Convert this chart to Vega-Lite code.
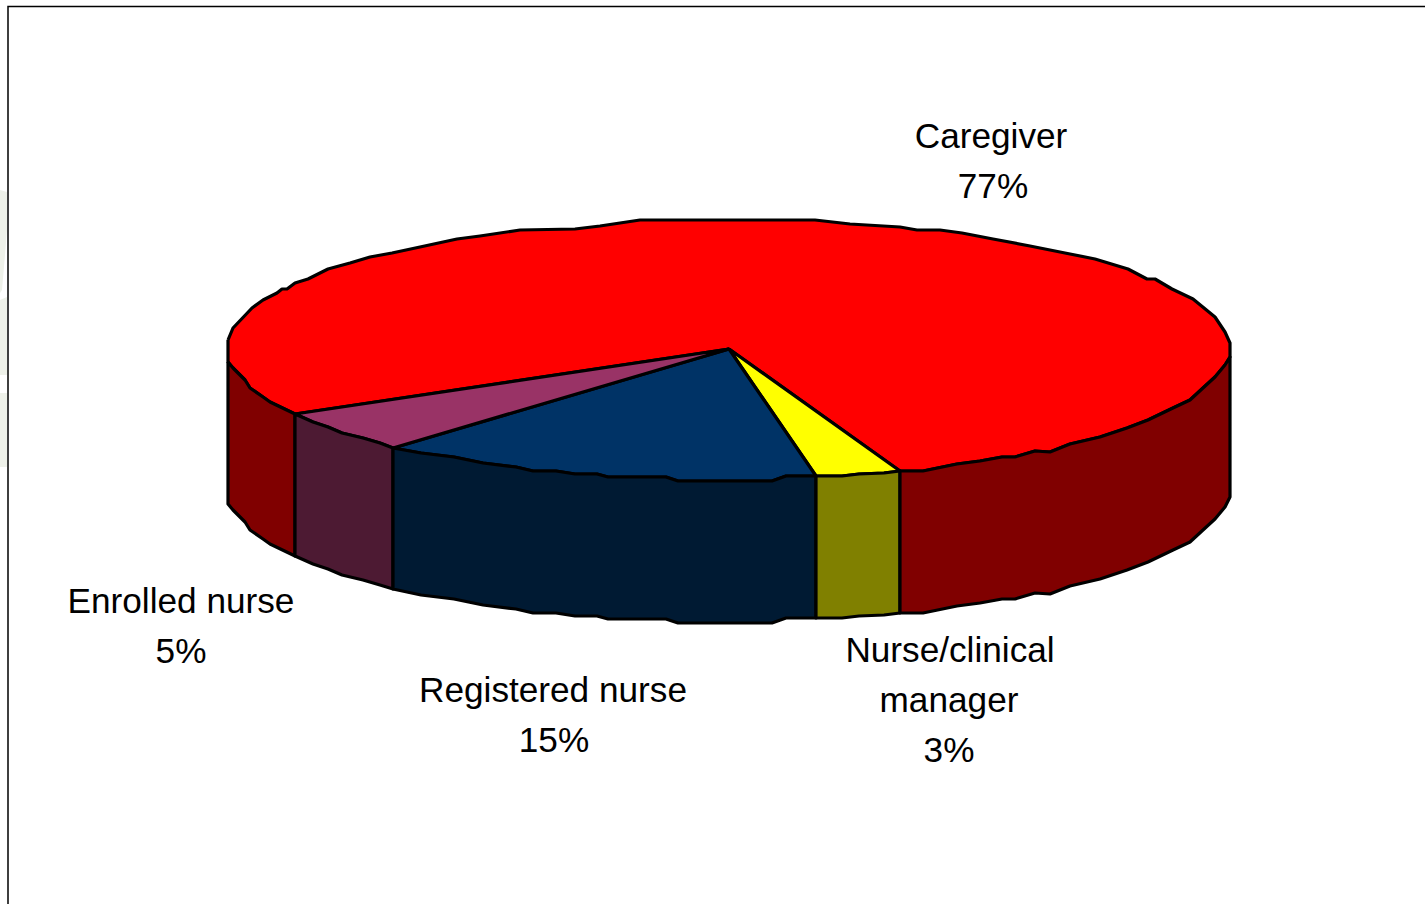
{"$schema":"https://vega.github.io/schema/vega-lite/v6.json","width":1425,"height":904,"padding":0,"autosize":"none","background":"white","config":{"view":{"stroke":null}},
"datasets":{
"faces":[
{"face":"Caregiver top","i":1,"x":228,"y":340},{"face":"Caregiver top","i":2,"x":233,"y":328},{"face":"Caregiver top","i":3,"x":252,"y":308},{"face":"Caregiver top","i":4,"x":263,"y":300},{"face":"Caregiver top","i":5,"x":277,"y":293},{"face":"Caregiver top","i":6,"x":282,"y":289},{"face":"Caregiver top","i":7,"x":287,"y":289},{"face":"Caregiver top","i":8,"x":295,"y":283},{"face":"Caregiver top","i":9,"x":308,"y":279},{"face":"Caregiver top","i":10,"x":328,"y":269},{"face":"Caregiver top","i":11,"x":350,"y":263},{"face":"Caregiver top","i":12,"x":370,"y":257},{"face":"Caregiver top","i":13,"x":392,"y":253},{"face":"Caregiver top","i":14,"x":420,"y":247},{"face":"Caregiver top","i":15,"x":457,"y":239},{"face":"Caregiver top","i":16,"x":480,"y":236},{"face":"Caregiver top","i":17,"x":520,"y":230},{"face":"Caregiver top","i":18,"x":575,"y":229},{"face":"Caregiver top","i":19,"x":600,"y":226},{"face":"Caregiver top","i":20,"x":640,"y":220},{"face":"Caregiver top","i":21,"x":815,"y":220},{"face":"Caregiver top","i":22,"x":850,"y":224},{"face":"Caregiver top","i":23,"x":900,"y":227},{"face":"Caregiver top","i":24,"x":917,"y":230},{"face":"Caregiver top","i":25,"x":940,"y":230},{"face":"Caregiver top","i":26,"x":962,"y":233},{"face":"Caregiver top","i":27,"x":993,"y":239},{"face":"Caregiver top","i":28,"x":1030,"y":246},{"face":"Caregiver top","i":29,"x":1065,"y":253},{"face":"Caregiver top","i":30,"x":1095,"y":259},{"face":"Caregiver top","i":31,"x":1128,"y":269},{"face":"Caregiver top","i":32,"x":1147,"y":279},{"face":"Caregiver top","i":33,"x":1155,"y":279},{"face":"Caregiver top","i":34,"x":1172,"y":289},{"face":"Caregiver top","i":35,"x":1193,"y":299},{"face":"Caregiver top","i":36,"x":1215,"y":317},{"face":"Caregiver top","i":37,"x":1225,"y":332},{"face":"Caregiver top","i":38,"x":1230,"y":343},{"face":"Caregiver top","i":39,"x":1230,"y":357},{"face":"Caregiver top","i":40,"x":1225,"y":365},{"face":"Caregiver top","i":41,"x":1215,"y":377},{"face":"Caregiver top","i":42,"x":1203,"y":388},{"face":"Caregiver top","i":43,"x":1190,"y":400},{"face":"Caregiver top","i":44,"x":1173,"y":408},{"face":"Caregiver top","i":45,"x":1148,"y":420},{"face":"Caregiver top","i":46,"x":1127,"y":428},{"face":"Caregiver top","i":47,"x":1100,"y":437},{"face":"Caregiver top","i":48,"x":1070,"y":444},{"face":"Caregiver top","i":49,"x":1050,"y":452},{"face":"Caregiver top","i":50,"x":1035,"y":451},{"face":"Caregiver top","i":51,"x":1015,"y":457},{"face":"Caregiver top","i":52,"x":1002,"y":457},{"face":"Caregiver top","i":53,"x":980,"y":461},{"face":"Caregiver top","i":54,"x":957,"y":464},{"face":"Caregiver top","i":55,"x":923,"y":471},{"face":"Caregiver top","i":56,"x":900,"y":471},{"face":"Caregiver top","i":57,"x":729,"y":349},{"face":"Caregiver top","i":58,"x":295,"y":414},{"face":"Caregiver top","i":59,"x":270,"y":402},{"face":"Caregiver top","i":60,"x":263,"y":397},{"face":"Caregiver top","i":61,"x":250,"y":388},{"face":"Caregiver top","i":62,"x":245,"y":380},{"face":"Caregiver top","i":63,"x":233,"y":368},{"face":"Caregiver top","i":64,"x":228,"y":362},{"face":"Caregiver top","i":65,"x":228,"y":340},

{"face":"Manager top","i":1,"x":729,"y":349},{"face":"Manager top","i":2,"x":900,"y":471},{"face":"Manager top","i":3,"x":884,"y":473},{"face":"Manager top","i":4,"x":859,"y":474},{"face":"Manager top","i":5,"x":842,"y":476},{"face":"Manager top","i":6,"x":816,"y":476},{"face":"Manager top","i":7,"x":729,"y":349},

{"face":"Registered top","i":1,"x":729,"y":349},{"face":"Registered top","i":2,"x":816,"y":476},{"face":"Registered top","i":3,"x":786,"y":476},{"face":"Registered top","i":4,"x":772,"y":481},{"face":"Registered top","i":5,"x":678,"y":481},{"face":"Registered top","i":6,"x":666,"y":477},{"face":"Registered top","i":7,"x":608,"y":477},{"face":"Registered top","i":8,"x":597,"y":474},{"face":"Registered top","i":9,"x":575,"y":474},{"face":"Registered top","i":10,"x":556,"y":471},{"face":"Registered top","i":11,"x":533,"y":471},{"face":"Registered top","i":12,"x":516,"y":467},{"face":"Registered top","i":13,"x":483,"y":463},{"face":"Registered top","i":14,"x":454,"y":457},{"face":"Registered top","i":15,"x":421,"y":453},{"face":"Registered top","i":16,"x":393,"y":448},{"face":"Registered top","i":17,"x":729,"y":349},

{"face":"Enrolled top","i":1,"x":729,"y":349},{"face":"Enrolled top","i":2,"x":393,"y":448},{"face":"Enrolled top","i":3,"x":380,"y":443},{"face":"Enrolled top","i":4,"x":363,"y":438},{"face":"Enrolled top","i":5,"x":342,"y":433},{"face":"Enrolled top","i":6,"x":328,"y":427},{"face":"Enrolled top","i":7,"x":313,"y":422},{"face":"Enrolled top","i":8,"x":295,"y":414},{"face":"Enrolled top","i":9,"x":729,"y":349},

{"face":"Caregiver side","i":1,"x":228,"y":362},{"face":"Caregiver side","i":2,"x":233,"y":368},{"face":"Caregiver side","i":3,"x":245,"y":380},{"face":"Caregiver side","i":4,"x":250,"y":388},{"face":"Caregiver side","i":5,"x":263,"y":397},{"face":"Caregiver side","i":6,"x":270,"y":402},{"face":"Caregiver side","i":7,"x":295,"y":414},{"face":"Caregiver side","i":8,"x":295,"y":556},{"face":"Caregiver side","i":9,"x":270,"y":544},{"face":"Caregiver side","i":10,"x":263,"y":539},{"face":"Caregiver side","i":11,"x":250,"y":530},{"face":"Caregiver side","i":12,"x":245,"y":522},{"face":"Caregiver side","i":13,"x":233,"y":510},{"face":"Caregiver side","i":14,"x":228,"y":504},{"face":"Caregiver side","i":15,"x":228,"y":362},

{"face":"Enrolled side","i":1,"x":295,"y":414},{"face":"Enrolled side","i":2,"x":313,"y":422},{"face":"Enrolled side","i":3,"x":328,"y":427},{"face":"Enrolled side","i":4,"x":342,"y":433},{"face":"Enrolled side","i":5,"x":363,"y":438},{"face":"Enrolled side","i":6,"x":380,"y":443},{"face":"Enrolled side","i":7,"x":393,"y":448},{"face":"Enrolled side","i":8,"x":393,"y":589},{"face":"Enrolled side","i":9,"x":380,"y":585},{"face":"Enrolled side","i":10,"x":363,"y":580},{"face":"Enrolled side","i":11,"x":342,"y":575},{"face":"Enrolled side","i":12,"x":328,"y":569},{"face":"Enrolled side","i":13,"x":313,"y":564},{"face":"Enrolled side","i":14,"x":295,"y":556},{"face":"Enrolled side","i":15,"x":295,"y":414},

{"face":"Registered side","i":1,"x":393,"y":448},{"face":"Registered side","i":2,"x":421,"y":453},{"face":"Registered side","i":3,"x":454,"y":457},{"face":"Registered side","i":4,"x":483,"y":463},{"face":"Registered side","i":5,"x":516,"y":467},{"face":"Registered side","i":6,"x":533,"y":471},{"face":"Registered side","i":7,"x":556,"y":471},{"face":"Registered side","i":8,"x":575,"y":474},{"face":"Registered side","i":9,"x":597,"y":474},{"face":"Registered side","i":10,"x":608,"y":477},{"face":"Registered side","i":11,"x":666,"y":477},{"face":"Registered side","i":12,"x":678,"y":481},{"face":"Registered side","i":13,"x":772,"y":481},{"face":"Registered side","i":14,"x":786,"y":476},{"face":"Registered side","i":15,"x":816,"y":476},{"face":"Registered side","i":16,"x":816,"y":618},{"face":"Registered side","i":17,"x":786,"y":618},{"face":"Registered side","i":18,"x":772,"y":623},{"face":"Registered side","i":19,"x":678,"y":623},{"face":"Registered side","i":20,"x":666,"y":619},{"face":"Registered side","i":21,"x":608,"y":619},{"face":"Registered side","i":22,"x":597,"y":616},{"face":"Registered side","i":23,"x":575,"y":616},{"face":"Registered side","i":24,"x":556,"y":613},{"face":"Registered side","i":25,"x":533,"y":613},{"face":"Registered side","i":26,"x":516,"y":609},{"face":"Registered side","i":27,"x":483,"y":605},{"face":"Registered side","i":28,"x":454,"y":599},{"face":"Registered side","i":29,"x":421,"y":595},{"face":"Registered side","i":30,"x":393,"y":589},{"face":"Registered side","i":31,"x":393,"y":448},

{"face":"Manager side","i":1,"x":816,"y":476},{"face":"Manager side","i":2,"x":842,"y":476},{"face":"Manager side","i":3,"x":859,"y":474},{"face":"Manager side","i":4,"x":884,"y":473},{"face":"Manager side","i":5,"x":900,"y":471},{"face":"Manager side","i":6,"x":900,"y":613},{"face":"Manager side","i":7,"x":884,"y":615},{"face":"Manager side","i":8,"x":859,"y":616},{"face":"Manager side","i":9,"x":842,"y":618},{"face":"Manager side","i":10,"x":816,"y":618},{"face":"Manager side","i":11,"x":816,"y":476},

{"face":"Caregiver side right","i":1,"x":900,"y":471},{"face":"Caregiver side right","i":2,"x":923,"y":471},{"face":"Caregiver side right","i":3,"x":957,"y":464},{"face":"Caregiver side right","i":4,"x":980,"y":461},{"face":"Caregiver side right","i":5,"x":1002,"y":457},{"face":"Caregiver side right","i":6,"x":1015,"y":457},{"face":"Caregiver side right","i":7,"x":1035,"y":451},{"face":"Caregiver side right","i":8,"x":1050,"y":452},{"face":"Caregiver side right","i":9,"x":1070,"y":444},{"face":"Caregiver side right","i":10,"x":1100,"y":437},{"face":"Caregiver side right","i":11,"x":1127,"y":428},{"face":"Caregiver side right","i":12,"x":1148,"y":420},{"face":"Caregiver side right","i":13,"x":1173,"y":408},{"face":"Caregiver side right","i":14,"x":1190,"y":400},{"face":"Caregiver side right","i":15,"x":1203,"y":388},{"face":"Caregiver side right","i":16,"x":1215,"y":377},{"face":"Caregiver side right","i":17,"x":1225,"y":365},{"face":"Caregiver side right","i":18,"x":1230,"y":357},{"face":"Caregiver side right","i":19,"x":1230,"y":497},{"face":"Caregiver side right","i":20,"x":1225,"y":507},{"face":"Caregiver side right","i":21,"x":1215,"y":519},{"face":"Caregiver side right","i":22,"x":1203,"y":530},{"face":"Caregiver side right","i":23,"x":1190,"y":542},{"face":"Caregiver side right","i":24,"x":1173,"y":550},{"face":"Caregiver side right","i":25,"x":1148,"y":562},{"face":"Caregiver side right","i":26,"x":1127,"y":570},{"face":"Caregiver side right","i":27,"x":1100,"y":579},{"face":"Caregiver side right","i":28,"x":1070,"y":586},{"face":"Caregiver side right","i":29,"x":1050,"y":594},{"face":"Caregiver side right","i":30,"x":1035,"y":593},{"face":"Caregiver side right","i":31,"x":1015,"y":599},{"face":"Caregiver side right","i":32,"x":1002,"y":599},{"face":"Caregiver side right","i":33,"x":980,"y":603},{"face":"Caregiver side right","i":34,"x":957,"y":606},{"face":"Caregiver side right","i":35,"x":923,"y":613},{"face":"Caregiver side right","i":36,"x":900,"y":613},{"face":"Caregiver side right","i":37,"x":900,"y":471}
],
"labels":[
{"t":"Caregiver","x":991,"y":137},{"t":"77%","x":993,"y":187},
{"t":"Enrolled nurse","x":181,"y":602},{"t":"5%","x":181,"y":652},
{"t":"Registered nurse","x":553,"y":691},{"t":"15%","x":554,"y":741},
{"t":"Nurse/clinical","x":950,"y":651},{"t":"manager","x":949,"y":701},{"t":"3%","x":949,"y":751}
],
"frame":[{"i":1,"x":1425,"y":6.5},{"i":2,"x":8,"y":6.5},{"i":3,"x":8,"y":904}],
"stain":[
{"part":"a","i":1,"x":0,"y":190},{"part":"a","i":2,"x":7,"y":192},{"part":"a","i":3,"x":7,"y":230},{"part":"a","i":4,"x":5,"y":255},{"part":"a","i":5,"x":2,"y":290},{"part":"a","i":6,"x":0,"y":293},{"part":"a","i":7,"x":0,"y":190},
{"part":"b","i":1,"x":0,"y":300},{"part":"b","i":2,"x":7,"y":297},{"part":"b","i":3,"x":7,"y":375},{"part":"b","i":4,"x":0,"y":375},{"part":"b","i":5,"x":0,"y":300},
{"part":"c","i":1,"x":0,"y":393},{"part":"c","i":2,"x":7,"y":393},{"part":"c","i":3,"x":7,"y":467},{"part":"c","i":4,"x":0,"y":467},{"part":"c","i":5,"x":0,"y":393}
]
},
"layer":[
{"data":{"name":"stain"},"mark":{"type":"line","strokeWidth":0,"fill":"#eef1e9"},"encoding":{"x":{"field":"x","type":"quantitative","scale":{"domain":[0,1425]},"axis":null},"y":{"field":"y","type":"quantitative","scale":{"domain":[904,0]},"axis":null},"detail":{"field":"part"},"order":{"field":"i"}}},
{"data":{"name":"frame"},"mark":{"type":"line","stroke":"black","strokeWidth":1.5,"clip":false},"encoding":{"x":{"field":"x","type":"quantitative","scale":{"domain":[0,1425]},"axis":null},"y":{"field":"y","type":"quantitative","scale":{"domain":[904,0]},"axis":null},"order":{"field":"i"}}},
{"data":{"name":"faces"},"mark":{"type":"line","stroke":"black","strokeWidth":3.2,"strokeJoin":"round"},"encoding":{"x":{"field":"x","type":"quantitative","scale":{"domain":[0,1425]},"axis":null},"y":{"field":"y","type":"quantitative","scale":{"domain":[904,0]},"axis":null},"order":{"field":"i"},"fill":{"field":"face","type":"nominal","legend":null,"scale":{"domain":["Caregiver top","Manager top","Registered top","Enrolled top","Caregiver side","Enrolled side","Registered side","Manager side","Caregiver side right"],"range":["#ff0000","#ffff00","#003366","#993366","#800000","#4d1a33","#001a33","#808000","#800000"]}}}},
{"data":{"name":"labels"},"mark":{"type":"text","font":"Liberation Sans","fontSize":35.2,"color":"black","align":"center","baseline":"middle"},"encoding":{"x":{"field":"x","type":"quantitative","scale":{"domain":[0,1425]},"axis":null},"y":{"field":"y","type":"quantitative","scale":{"domain":[904,0]},"axis":null},"text":{"field":"t"}}}
]}
